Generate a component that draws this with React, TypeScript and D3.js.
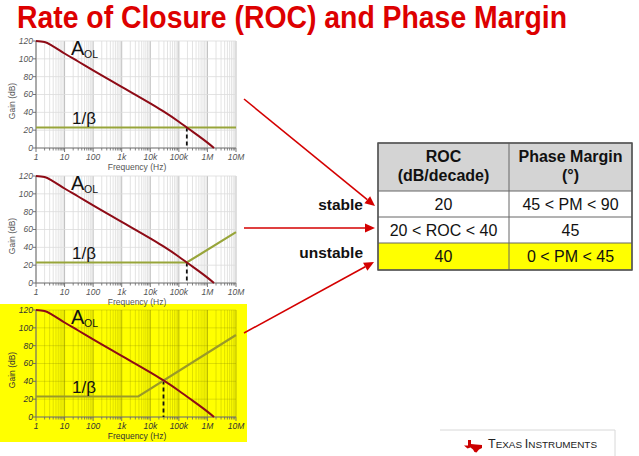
import React from "react";
import * as d3 from "d3";

// ---------- data ----------
const freqTicks = [1, 10, 100, 1e3, 1e4, 1e5, 1e6, 1e7];
const freqTickLabels = ["1", "10", "100", "1k", "10k", "100k", "1M", "10M"];
const gainTicks = [0, 20, 40, 60, 80, 100, 120];

const aolFreq = [1, 2, 4, 10, 30, 100, 1e3, 1e4, 2.9e4, 1e5, 1.9e5, 1e6, 1.7e6];
const aolGain = [120, 118.8, 114, 106, 97, 87, 68.5, 50, 41, 29.5, 23, 6, 0];

const beta1Freq = [1, 1e7];
const beta1Gain = [23, 23];
const beta2Freq = [1, 1.9e5, 1e7];
const beta2Gain = [23, 23, 57];
const beta3Freq = [1, 3.8e3, 1e7];
const beta3Gain = [23, 23, 92];

const crossFreq = [1.9e5, 1.9e5, 2.9e4];
const crossGain = [23, 23, 41];

const tableHeader1 = ["ROC", "(dB/decade)"];
const tableHeader2 = ["Phase Margin", "(°)"];
const rocValues = ["20", "20 < ROC < 40", "40"];
const pmValues = ["45 < PM < 90", "45", "0 < PM < 45"];
const rowLabels = ["stable", "", "unstable"];

const FONT = "'Liberation Sans', Arial, Helvetica, sans-serif";

type ChartProps = {
  top: number;
  betaF: number[];
  betaG: number[];
  cf: number;
  cg: number;
  highlight: boolean;
};

function Chart({ top, betaF, betaG, cf, cg, highlight }: ChartProps) {
  const H = 107;
  const x = d3.scaleLog().domain([1, 1e7]).range([36, 236]);
  const y = d3.scaleLinear().domain([0, 120]).range([top + H, top]);
  const smooth = d3
    .line<[number, number]>()
    .x((d) => x(d[0]))
    .y((d) => y(d[1]))
    .curve(d3.curveMonotoneX);
  const straight = d3
    .line<[number, number]>()
    .x((d) => x(d[0]))
    .y((d) => y(d[1]));
  const aol = smooth(aolFreq.map((f, i) => [f, aolGain[i]] as [number, number])) || "";
  const beta = straight(betaF.map((f, i) => [f, betaG[i]] as [number, number])) || "";
  const minors: number[] = [];
  for (let d = 1; d < 1e7; d *= 10) for (let k = 2; k <= 9; k++) minors.push(d * k);
  const minorCol = highlight ? "rgba(120,120,0,0.3)" : "#dcdcdc";
  const majorCol = highlight ? "rgba(110,110,0,0.55)" : "#b8b8b8";
  const txtCol = highlight ? "#333" : "#555";
  const betaCol = highlight ? "#9a9a28" : "#98a53a";
  return (
    <g fontFamily={FONT}>
      {minors.map((f, i) => (
        <line key={"m" + i} x1={x(f)} x2={x(f)} y1={top} y2={top + H} stroke={minorCol} strokeWidth={0.8} />
      ))}
      {freqTicks.map((f, i) => (
        <line key={"M" + i} x1={x(f)} x2={x(f)} y1={top} y2={top + H} stroke={majorCol} strokeWidth={0.9} />
      ))}
      {gainTicks.map((g, i) => (
        <line key={"h" + i} x1={36} x2={236} y1={y(g)} y2={y(g)} stroke={minorCol} strokeWidth={0.8} />
      ))}
      {/* axes */}
      <line x1={36} x2={36} y1={top} y2={top + H} stroke="#777" strokeWidth={1} />
      <line x1={36} x2={236} y1={top + H} y2={top + H} stroke="#777" strokeWidth={1} />
      {minors.map((f, i) => (
        <line key={"mt" + i} x1={x(f)} x2={x(f)} y1={top + H} y2={top + H + 2.5} stroke="#666" strokeWidth={0.8} />
      ))}
      {freqTicks.map((f, i) => (
        <line key={"Mt" + i} x1={x(f)} x2={x(f)} y1={top + H} y2={top + H + 4} stroke="#666" strokeWidth={0.9} />
      ))}
      {gainTicks.map((g, i) => (
        <line key={"yt" + i} x1={33} x2={36} y1={y(g)} y2={y(g)} stroke="#666" strokeWidth={0.9} />
      ))}
      {gainTicks.map((g, i) => (
        <text key={"yl" + i} x={33} y={y(g)} dy="0.35em" textAnchor="end" fontSize={8.5} fontStyle="italic" fill={txtCol}>
          {g}
        </text>
      ))}
      {freqTicks.map((f, i) => (
        <text key={"xl" + i} x={x(f)} y={top + H + 12} textAnchor="middle" fontSize={8.5} fontStyle="italic" fill={txtCol}>
          {freqTickLabels[i]}
        </text>
      ))}
      <text x={137} y={top + H + 22} textAnchor="middle" fontSize={8.5} fill={txtCol}>
        Frequency (Hz)
      </text>
      <text
        transform={`translate(15,${top + 60}) rotate(-90)`}
        textAnchor="middle"
        fontSize={8.5}
        fill={txtCol}
      >
        Gain (dB)
      </text>
      {/* curves */}
      <line x1={x(cf)} x2={x(cf)} y1={y(cg)} y2={y(0)} stroke="#111" strokeWidth={1.8} strokeDasharray="4,3" />
      <path d={beta} fill="none" stroke={betaCol} strokeWidth={2.2} />
      <path d={aol} fill="none" stroke="#8e0b16" strokeWidth={2} />
      <text x={71} y={top + 14} fontSize={20} fill="#111">
        A
      </text>
      <text x={84} y={top + 17} fontSize={10.5} fill="#111">
        OL
      </text>
      <text x={72} y={top + 83} fontSize={17} fill="#111">
        1/β
      </text>
    </g>
  );
}

function Arrow({ x1, y1, x2, y2 }: { x1: number; y1: number; x2: number; y2: number }) {
  const a = Math.atan2(y2 - y1, x2 - x1);
  const L = 10;
  const W = 4.5;
  const bx = x2 - L * Math.cos(a);
  const by = y2 - L * Math.sin(a);
  const p1 = [bx + W * Math.sin(a), by - W * Math.cos(a)];
  const p2 = [bx - W * Math.sin(a), by + W * Math.cos(a)];
  return (
    <g>
      <line x1={x1} y1={y1} x2={bx} y2={by} stroke="#d40000" strokeWidth={1.6} />
      <polygon points={`${x2},${y2} ${p1[0]},${p1[1]} ${p2[0]},${p2[1]}`} fill="#d40000" />
    </g>
  );
}

export default function App() {
  const tX = [378, 509, 632];
  const tY = [143, 191, 217, 243, 270];
  const texas =
    "M468,440 L471,440 L471,444 L476,444.5 L482,445 L482,448 L479,449.5 L476.5,452.5 L474.5,452 L473,449.5 L470.5,447.5 L467.5,448.5 L464,445.5 L468,445.5 Z";
  return (
    <svg
      width={639}
      height={456}
      style={{ position: "absolute", left: 0, top: 0, background: "#fff" }}
      fontFamily={FONT}
    >
      <rect x={0} y={0} width={639} height={456} fill="#fff" />
      <text
        x={17}
        y={28}
        fontSize={32}
        fontWeight="bold"
        fill="#dd0000"
        textLength={550}
        lengthAdjust="spacingAndGlyphs"
      >
        Rate of Closure (ROC) and Phase Margin
      </text>

      <rect x={0} y={304} width={247} height={138} fill="#ffff00" />

      <Chart top={41} betaF={beta1Freq} betaG={beta1Gain} cf={crossFreq[0]} cg={crossGain[0]} highlight={false} />
      <Chart top={176} betaF={beta2Freq} betaG={beta2Gain} cf={crossFreq[1]} cg={crossGain[1]} highlight={false} />
      <Chart top={310} betaF={beta3Freq} betaG={beta3Gain} cf={crossFreq[2]} cg={crossGain[2]} highlight={true} />

      {/* table */}
      <rect x={tX[0]} y={tY[0]} width={tX[2] - tX[0]} height={tY[1] - tY[0]} fill="#d4d4d4" />
      <rect x={tX[0]} y={tY[3]} width={tX[2] - tX[0]} height={tY[4] - tY[3]} fill="#ffff00" />
      {tY.map((yy, i) => (
        <line key={"ty" + i} x1={tX[0]} x2={tX[2]} y1={yy} y2={yy} stroke="#666" strokeWidth={1} />
      ))}
      {tX.map((xx, i) => (
        <line key={"tx" + i} x1={xx} x2={xx} y1={tY[0]} y2={tY[4]} stroke="#666" strokeWidth={1} />
      ))}
      <rect x={tX[0]} y={tY[0]} width={tX[2] - tX[0]} height={tY[4] - tY[0]} fill="none" stroke="#555" strokeWidth={1.5} />
      {tableHeader1.map((t, i) => (
        <text key={"h1" + i} x={(tX[0] + tX[1]) / 2} y={162 + i * 19} textAnchor="middle" fontSize={16} fontWeight="bold" fill="#111">
          {t}
        </text>
      ))}
      {tableHeader2.map((t, i) => (
        <text key={"h2" + i} x={(tX[1] + tX[2]) / 2} y={162 + i * 19} textAnchor="middle" fontSize={16} fontWeight="bold" fill="#111">
          {t}
        </text>
      ))}
      {rocValues.map((t, i) => (
        <text key={"r" + i} x={(tX[0] + tX[1]) / 2} y={(tY[i + 1] + tY[i + 2]) / 2} dy="0.36em" textAnchor="middle" fontSize={16} fill="#111">
          {t}
        </text>
      ))}
      {pmValues.map((t, i) => (
        <text key={"p" + i} x={(tX[1] + tX[2]) / 2} y={(tY[i + 1] + tY[i + 2]) / 2} dy="0.36em" textAnchor="middle" fontSize={16} fill="#111">
          {t}
        </text>
      ))}
      {rowLabels.map((t, i) =>
        t ? (
          <text key={"rl" + i} x={363} y={i === 0 ? 210 : 258} textAnchor="end" fontSize={15.5} fontWeight="bold" fill="#111">
            {t}
          </text>
        ) : null
      )}

      {/* arrows */}
      <Arrow x1={244} y1={99} x2={375} y2={206} />
      <Arrow x1={244} y1={228} x2={375} y2={228} />
      <Arrow x1={244} y1={333} x2={374} y2={262} />

      {/* footer */}
      <polyline points="440,430 615,430 615,456" fill="none" stroke="#d8d8d8" strokeWidth={1} />
      <path d={texas} fill="#cc0000" />
      <text x={488} y={448} fill="#222" textLength={109} lengthAdjust="spacingAndGlyphs">
        <tspan fontSize={12}>T</tspan>
        <tspan fontSize={9.5}>EXAS </tspan>
        <tspan fontSize={12}>I</tspan>
        <tspan fontSize={9.5}>NSTRUMENTS</tspan>
      </text>
    </svg>
  );
}
